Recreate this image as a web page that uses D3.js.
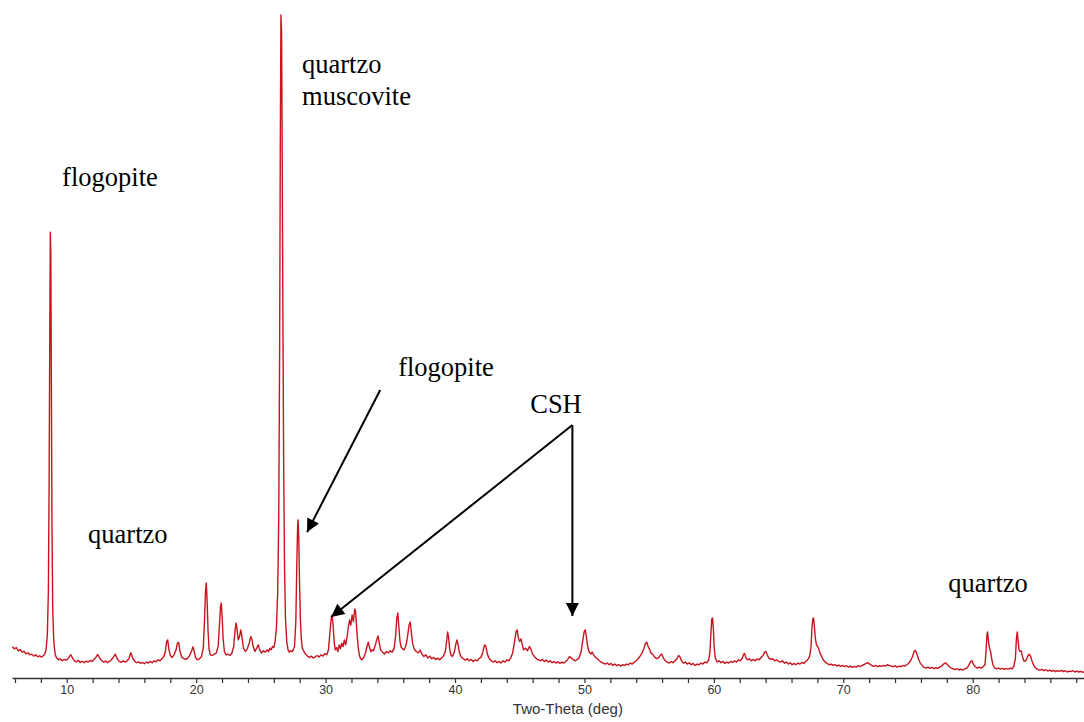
<!DOCTYPE html>
<html>
<head>
<meta charset="utf-8">
<script src="https://cdn.jsdelivr.net/npm/d3@7/dist/d3.min.js"></script>
<style>
  html, body { margin: 0; padding: 0; background: #fff; }
  svg { display: block; }
</style>
</head>
<body>
<svg id="chart" width="1084" height="722"></svg>
<script>
// ---- Data: XRD pattern [2-theta (deg), intensity (counts)] ----
const pattern = [
[5.8,95],[5.95,88],[6.1,92],[6.25,82],[6.4,86],[6.55,78],[6.7,81],[6.85,73],[7.0,76],[7.15,70],[7.3,72],[7.45,66],[7.6,70],[7.75,64],[7.9,67],[8.05,63],[8.2,68],[8.3,72],
[8.4,85],[8.5,130],[8.58,260],[8.64,600],[8.69,1050],[8.73,1345],[8.77,1280],[8.81,900],[8.86,450],[8.92,200],[9.0,110],[9.1,72],[9.2,62],
[9.35,55],[9.5,58],[9.65,52],[9.8,56],[9.95,54],[10.1,58],[10.22,66],[10.32,70],[10.45,60],[10.6,52],[10.75,49],[10.9,53],[11.05,47],[11.2,50],[11.35,46],[11.5,51],[11.65,48],[11.8,53],[11.95,50],[12.1,56],[12.25,62],[12.4,71],[12.55,60],[12.7,52],[12.85,48],[13.0,51],[13.15,46],[13.3,50],[13.45,55],[13.6,63],[13.75,72],[13.9,58],[14.05,50],[14.2,47],[14.35,52],[14.5,48],[14.65,51],[14.8,58],[14.95,76],[15.1,60],[15.25,50],[15.4,46],[15.55,49],[15.7,44],[15.85,47],[16.0,43],[16.15,48],[16.3,45],[16.45,50],[16.6,46],[16.75,52],[16.9,49],[17.05,55],[17.2,52],[17.35,58],[17.5,64],
[17.62,80],[17.72,110],[17.8,115],[17.9,85],[18.0,68],[18.15,62],[18.3,70],[18.45,85],[18.55,105],[18.65,108],[18.75,80],[18.9,62],[19.05,58],[19.2,56],[19.35,60],[19.5,68],[19.65,82],[19.75,94],[19.85,80],[19.95,62],[20.1,55],[20.25,58],[20.4,64],
[20.55,90],[20.65,180],[20.72,260],[20.78,287],[20.84,240],[20.92,140],[21.0,85],[21.1,70],[21.25,68],[21.4,72],[21.55,75],[21.7,95],[21.8,160],[21.88,215],[21.94,226],[22.0,190],[22.08,120],[22.18,80],[22.3,70],[22.45,72],[22.6,68],[22.75,74],[22.9,95],[23.0,140],[23.08,166],[23.15,150],[23.25,115],[23.35,125],[23.45,145],[23.55,120],[23.65,90],[23.8,80],[23.95,88],[24.1,105],[24.22,125],[24.3,118],[24.4,95],[24.55,80],[24.7,92],[24.8,100],[24.9,85],[25.05,75],[25.2,82],[25.35,78],[25.5,85],[25.6,80],[25.7,90],[25.8,85],[25.9,95],[26.0,92],[26.1,110],
[26.2,150],[26.3,260],[26.38,480],[26.45,1000],[26.5,1600],[26.55,2000],[26.6,1950],[26.64,1650],[26.7,1100],[26.76,650],[26.83,330],[26.9,180],[27.0,110],[27.1,85],[27.2,78],[27.3,82],[27.45,80],[27.6,95],[27.7,170],[27.78,350],[27.84,460],[27.88,477],[27.93,420],[27.98,300],[28.05,180],[28.12,120],[28.2,90],
[28.3,82],[28.45,72],[28.6,66],[28.75,62],[28.9,66],[29.05,60],[29.2,64],[29.35,68],[29.5,63],[29.65,70],[29.8,66],[29.95,74],[30.1,70],[30.22,85],[30.32,130],[30.42,175],[30.5,190],[30.58,160],[30.66,110],[30.75,85],[30.85,92],[30.95,80],[31.05,100],[31.15,88],[31.25,105],[31.35,95],[31.45,115],[31.55,100],[31.65,120],[31.75,150],[31.85,175],[31.95,160],[32.05,190],[32.15,170],[32.25,208],[32.32,200],[32.4,150],[32.5,100],[32.6,70],[32.7,58],[32.8,55],[32.95,62],[33.1,78],[33.2,95],[33.3,108],[33.4,92],[33.5,80],[33.6,85],[33.7,82],[33.85,100],[33.95,115],[34.05,127],[34.15,105],[34.25,85],[34.4,78],[34.55,72],[34.7,80],[34.85,76],[35.0,82],[35.15,78],[35.3,90],[35.42,130],[35.5,180],[35.58,196],[35.65,160],[35.75,110],[35.85,92],[35.95,88],[36.05,85],[36.15,92],[36.25,105],[36.35,130],[36.45,160],[36.54,169],[36.62,140],[36.72,105],[36.85,88],[37.0,80],[37.15,76],[37.3,84],[37.45,72],[37.6,65],[37.75,70],[37.9,60],[38.05,66],[38.2,58],[38.35,62],[38.5,56],[38.65,60],[38.8,55],[38.95,60],[39.1,66],[39.25,80],[39.35,110],[39.43,139],[39.5,125],[39.58,90],[39.68,70],[39.8,65],[39.95,78],[40.05,100],[40.15,115],[40.25,98],[40.35,75],[40.5,62],[40.65,58],[40.8,54],[40.95,58],[41.1,52],[41.25,56],[41.4,50],[41.55,55],[41.7,52],[41.85,58],[42.0,62],[42.15,78],[42.28,100],[42.38,96],[42.5,72],[42.65,58],[42.8,52],[42.95,48],[43.1,52],[43.25,46],[43.4,50],[43.55,45],[43.7,52],[43.85,48],[44.0,55],[44.15,52],[44.3,60],[44.45,75],[44.6,110],[44.72,140],[44.8,145],[44.9,120],[45.0,110],[45.1,118],[45.2,100],[45.3,85],[45.45,90],[45.6,82],[45.75,95],[45.85,88],[46.0,72],[46.15,64],[46.3,58],[46.45,55],[46.6,52],[46.75,56],[46.9,50],[47.05,54],[47.2,48],[47.35,52],[47.5,46],[47.65,50],[47.8,45],[47.95,49],[48.1,44],[48.25,48],[48.4,45],[48.55,50],[48.7,55],[48.85,65],[49.0,60],[49.15,55],[49.3,52],[49.45,56],[49.6,62],[49.75,80],[49.88,115],[49.98,140],[50.06,145],[50.15,125],[50.25,95],[50.35,80],[50.5,72],[50.6,78],[50.7,70],[50.85,62],[51.0,58],[51.15,52],[51.3,48],[51.45,45],[51.6,42],[51.75,45],[51.9,40],[52.05,44],[52.2,38],[52.35,42],[52.5,37],[52.65,41],[52.8,36],[52.95,40],[53.1,38],[53.25,42],[53.4,40],[53.55,45],[53.7,42],[53.85,48],[54.0,52],[54.15,58],[54.3,66],[54.45,75],[54.6,90],[54.72,105],[54.82,108],[54.92,95],[55.02,88],[55.15,75],[55.3,70],[55.45,62],[55.6,58],[55.75,62],[55.88,70],[55.98,72],[56.1,60],[56.25,52],[56.4,48],[56.55,45],[56.7,50],[56.85,46],[57.0,52],[57.15,58],[57.28,68],[57.38,64],[57.5,52],[57.65,45],[57.8,48],[57.95,42],[58.1,46],[58.25,40],[58.4,44],[58.55,38],[58.7,42],[58.85,40],[59.0,45],[59.15,42],[59.3,48],[59.45,46],[59.6,55],[59.7,80],[59.78,140],[59.84,178],[59.9,181],[59.96,150],[60.03,90],[60.12,60],[60.25,48],[60.4,52],[60.55,46],[60.7,50],[60.85,44],[61.0,48],[61.15,45],[61.3,50],[61.45,47],[61.6,52],[61.75,48],[61.9,55],[62.05,52],[62.2,60],[62.3,72],[62.38,74],[62.48,60],[62.6,55],[62.75,58],[62.9,52],[63.05,56],[63.2,52],[63.35,58],[63.5,55],[63.65,62],[63.8,68],[63.92,78],[64.02,80],[64.12,70],[64.25,60],[64.4,56],[64.55,58],[64.7,52],[64.85,55],[65.0,50],[65.15,48],[65.3,52],[65.45,45],[65.6,48],[65.75,42],[65.9,46],[66.05,40],[66.2,44],[66.35,40],[66.5,45],[66.65,42],[66.8,47],[66.95,44],[67.1,50],[67.25,55],[67.4,65],[67.5,90],[67.58,150],[67.65,178],[67.7,181],[67.76,160],[67.84,120],[67.93,100],[68.02,95],[68.1,88],[68.2,75],[68.3,68],[68.45,55],[68.6,48],[68.75,44],[68.9,40],[69.05,42],[69.2,38],[69.35,41],[69.5,36],[69.65,39],[69.8,35],[69.95,38],[70.1,34],[70.25,37],[70.4,33],[70.55,36],[70.7,32],[70.85,35],[71.0,33],[71.15,37],[71.3,34],[71.45,38],[71.6,40],[71.75,44],[71.9,46],[72.05,42],[72.2,38],[72.35,35],[72.5,38],[72.65,34],[72.8,37],[72.95,35],[73.1,38],[73.25,36],[73.4,40],[73.55,38],[73.7,36],[73.85,34],[74.0,37],[74.15,33],[74.3,36],[74.45,34],[74.6,38],[74.75,36],[74.9,40],[75.05,44],[75.2,52],[75.35,65],[75.48,80],[75.57,84],[75.67,75],[75.8,58],[75.95,45],[76.1,38],[76.25,32],[76.4,30],[76.55,33],[76.7,29],[76.85,32],[77.0,28],[77.15,31],[77.3,29],[77.45,33],[77.6,36],[77.75,42],[77.9,46],[78.05,40],[78.2,34],[78.35,30],[78.5,28],[78.65,25],[78.8,28],[78.95,24],[79.1,27],[79.25,24],[79.4,28],[79.55,30],[79.7,38],[79.85,50],[79.95,52],[80.05,42],[80.2,34],[80.35,30],[80.5,33],[80.65,30],[80.8,34],[80.95,40],[81.03,80],[81.1,130],[81.15,139],[81.22,110],[81.3,90],[81.38,80],[81.46,60],[81.56,40],[81.7,30],[81.85,28],[82.0,30],[82.15,27],[82.3,29],[82.45,26],[82.6,29],[82.75,27],[82.9,30],[83.05,28],[83.18,35],[83.3,60],[83.38,120],[83.44,139],[83.5,115],[83.58,85],[83.66,80],[83.75,82],[83.84,65],[83.95,52],[84.05,50],[84.15,55],[84.25,65],[84.35,72],[84.45,68],[84.55,55],[84.65,44],[84.78,34],[84.92,28],[85.05,25],[85.2,24],[85.35,26],[85.5,22],[85.65,25],[85.8,21],[85.95,24],[86.1,20],[86.25,23],[86.4,19],[86.55,22],[86.7,20],[86.85,23],[87.0,19],[87.15,22],[87.3,18],[87.45,21],[87.6,19],[87.75,22],[87.9,18],[88.05,21],[88.2,18],[88.35,20],[88.5,17],[88.6,19]
];

// Tick marks (every 2 deg) and labelled ticks
const tickValues = [6,8,10,12,14,16,18,20,22,24,26,28,30,32,34,36,38,40,42,44,46,48,50,52,54,56,58,60,62,64,66,68,70,72,74,76,78,80,82,84,86,88];
const labelledTicks = [10,20,30,40,50,60,70,80];
const xTitle = "Two-Theta (deg)";

// Phase labels: [text, 2-theta, counts]
const phaseLabels = [
  ["quartzo", 28.18, 1825],
  ["muscovite", 28.18, 1728],
  ["flogopite", 9.64, 1484],
  ["quartzo", 11.65, 407],
  ["flogopite", 35.61, 911],
  ["CSH", 45.81, 799],
  ["quartzo", 78.12, 259]
];

// Arrows: [from 2-theta, from counts, to 2-theta, to counts]
const arrows = [
  [34.22, 869, 28.57, 440],
  [49.07, 763, 30.43, 184],
  [49.07, 763, 49.07, 187]
];

// ---- Drawing ----
const svg = d3.select("#chart");
const x = d3.scaleLinear().domain([5.77, 88.6]).range([12, 1084]);
const y = d3.scaleLinear().domain([0, 2000]).range([678, 15]);

// pattern line
svg.append("path")
  .datum(pattern)
  .attr("fill", "none")
  .attr("stroke", "#c8141e")
  .attr("stroke-width", 1.4)
  .attr("stroke-linejoin", "round")
  .attr("d", d3.line().x(d => x(d[0])).y(d => y(d[1])));

// axis
const axis = d3.axisBottom(x)
  .tickValues(tickValues)
  .tickSize(5)
  .tickSizeOuter(0)
  .tickFormat(d => labelledTicks.includes(d) ? d : "");
const gAxis = svg.append("g").attr("transform", `translate(0,${y(0)})`).call(axis);
gAxis.select(".domain").attr("stroke", "#333").attr("stroke-width", 1.6);
gAxis.selectAll(".tick line").attr("stroke", "#333").attr("stroke-width", 1.2);
gAxis.selectAll(".tick text")
  .attr("fill", "#333")
  .attr("y", 7)
  .style("font-family", "'Liberation Sans', Arial, sans-serif")
  .style("font-size", "12.5px");

svg.append("text")
  .attr("x", x(48.72))
  .attr("y", 714)
  .attr("text-anchor", "middle")
  .attr("fill", "#333")
  .style("font-family", "'Liberation Sans', Arial, sans-serif")
  .style("font-size", "15px")
  .text(xTitle);

// arrowhead marker
svg.append("defs").append("marker")
  .attr("id", "head")
  .attr("viewBox", "0 0 10 10")
  .attr("refX", 10).attr("refY", 5)
  .attr("markerWidth", 8).attr("markerHeight", 6.5)
  .attr("markerUnits", "strokeWidth")
  .attr("orient", "auto")
  .append("path")
  .attr("d", "M0,0 L10,5 L0,10 Z")
  .attr("fill", "#000");

svg.selectAll("line.arrow")
  .data(arrows)
  .join("line")
  .attr("class", "arrow")
  .attr("x1", d => x(d[0])).attr("y1", d => y(d[1]))
  .attr("x2", d => x(d[2])).attr("y2", d => y(d[3]))
  .attr("stroke", "#000")
  .attr("stroke-width", 2)
  .attr("marker-end", "url(#head)");

svg.selectAll("text.phase")
  .data(phaseLabels)
  .join("text")
  .attr("class", "phase")
  .attr("x", d => x(d[1]))
  .attr("y", d => y(d[2]))
  .attr("fill", "#000")
  .style("font-family", "'Liberation Serif', 'Times New Roman', serif")
  .style("font-size", "26.5px")
  .text(d => d[0]);
</script>
</body>
</html>
